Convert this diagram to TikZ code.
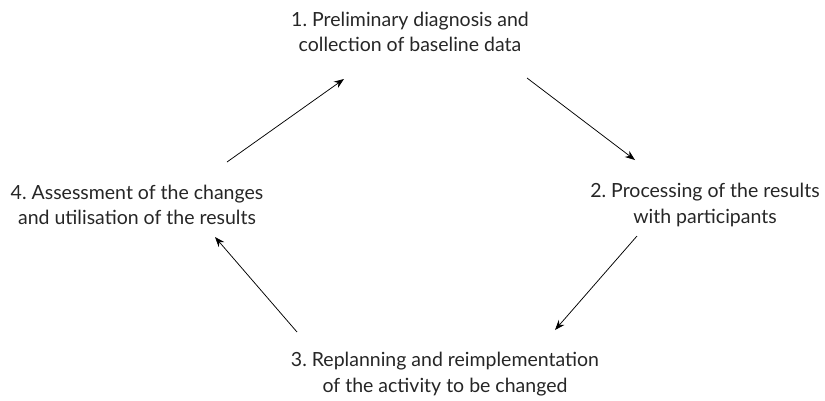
\documentclass[tikz,border=0pt]{standalone}
\usepackage{fontspec}
\setmainfont{Lato}
\usetikzlibrary{arrows.meta}
\begin{document}
\begin{tikzpicture}[x=1pt,y=-1pt,
  lbl/.style={align=center,font=\fontsize{19.5}{25.5}\selectfont,inner sep=0pt,text=black!85},
  arr/.style={line width=0.75pt,-{Stealth[length=10pt,width=7.5pt]}}]
\useasboundingbox (0,0) rectangle (825,400);
\node[lbl] (n1) at (410,32) {1.\ Preliminary diagnosis and\\collection of baseline data};
\node[lbl] (n2) at (705,205) {2.\ Processing of the results\\with participants};
\node[lbl] (n3) at (445,374) {3.\ Replanning and reimplementation\\of the activity to be changed};
\node[lbl] (n4) at (137,205) {4.\ Assessment of the changes\\and utilisation of the results};
\coordinate (a1s) at (227,162); \coordinate (a1e) at (344,79);
\coordinate (a2s) at (527,78);  \coordinate (a2e) at (635,160);
\coordinate (a3s) at (637,236); \coordinate (a3e) at (555,330);
\coordinate (a4s) at (297,332); \coordinate (a4e) at (215,237);
\draw[arr] (a1s) -- (a1e);
\draw[arr] (a2s) -- (a2e);
\draw[arr] (a3s) -- (a3e);
\draw[arr] (a4s) -- (a4e);
\end{tikzpicture}
\end{document}
